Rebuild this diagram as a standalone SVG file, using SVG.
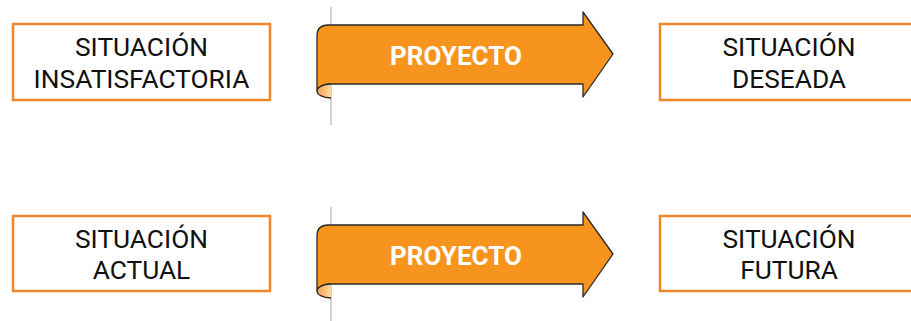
<svg xmlns="http://www.w3.org/2000/svg" width="911" height="321" viewBox="0 0 911 321">
<defs>
<linearGradient id="curlGrad" x1="0" y1="0" x2="1" y2="0">
<stop offset="0" stop-color="#F6A04A"/>
<stop offset="1" stop-color="#FDD9A6"/>
</linearGradient>
<g id="banner">
<line x1="331" y1="7" x2="331" y2="125" stroke="#A6A6A6" stroke-width="1"/>
<path d="M327,25 L583,25 L583,12 L613,54 L583,97 L583,84 L331,84 A14,7 0 0 0 317,91 L317,36 Q317,25 328,25 Z" fill="#F7941D" stroke="#2B2B2B" stroke-width="1.3" stroke-linejoin="round"/>
<path d="M331,84 A14,7 0 0 0 317,91 A14,7 0 0 0 331,98 Z" fill="url(#curlGrad)" stroke="none"/>
<path d="M331,84 A14,7 0 0 0 317,91 A14,7 0 0 0 331,98" fill="none" stroke="#2B2B2B" stroke-width="1.3"/>
</g>
</defs>
<style>
.box{fill:#FFFFFF;stroke:#F0862A;stroke-width:2.5}
.lbl{font-family:Roboto,"Liberation Sans",sans-serif;font-size:26.3px;fill:#111111;text-anchor:middle}
.proj{font-family:Roboto,"Liberation Sans",sans-serif;font-size:26px;font-weight:bold;fill:#FFFFFF;text-anchor:middle}
</style>
<g id="connectors"/>
<g id="sit-insatisfactoria">
<rect class="box" x="13" y="24" width="257" height="76"/>
<text class="lbl" x="141.5" y="56">SITUACIÓN</text>
<text class="lbl" x="141.5" y="87.5">INSATISFACTORIA</text>
</g>
<g id="proyecto-1">
<use href="#banner"/>
<text class="proj" x="456" y="65">PROYECTO</text>
</g>
<g id="sit-deseada">
<rect class="box" x="660" y="24" width="257" height="76"/>
<text class="lbl" x="789" y="56">SITUACIÓN</text>
<text class="lbl" x="789" y="87.5">DESEADA</text>
</g>
<g id="sit-actual">
<rect class="box" x="13" y="216" width="257" height="75"/>
<text class="lbl" x="141.5" y="247.5">SITUACIÓN</text>
<text class="lbl" x="141.5" y="279">ACTUAL</text>
</g>
<g id="proyecto-2">
<use href="#banner" transform="translate(0,200)"/>
<text class="proj" x="456" y="265">PROYECTO</text>
</g>
<g id="sit-futura">
<rect class="box" x="660" y="216" width="257" height="75"/>
<text class="lbl" x="789" y="247.5">SITUACIÓN</text>
<text class="lbl" x="789" y="279">FUTURA</text>
</g>
</svg>
